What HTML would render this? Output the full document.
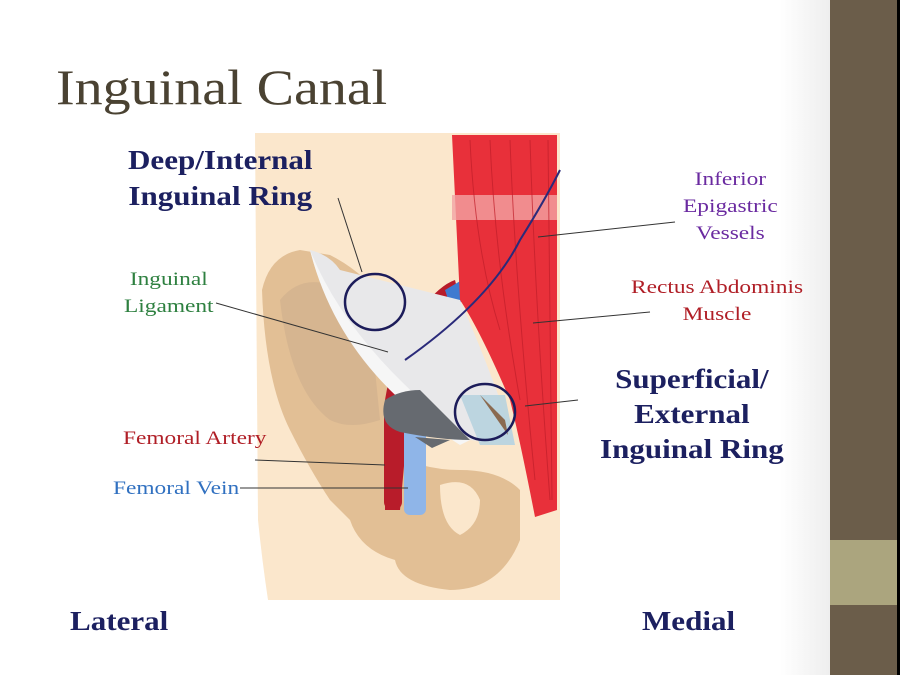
<!DOCTYPE html>
<html><head><style>
body{margin:0;width:900px;height:675px;overflow:hidden;background:#fff;font-family:"Liberation Serif",serif;}
.t{position:absolute;white-space:nowrap;transform-origin:0 0;}
.b{transform:scaleX(1.15);}
.r{transform:scaleX(1.23);}
</style></head><body>
<div style="position:absolute;left:0;top:0;width:830px;height:675px;background:linear-gradient(90deg,#fff 0,#fff 780px,#eee 830px)"></div>
<div style="position:absolute;left:830px;top:0;width:67px;height:675px;background:#6b5d4a"></div>
<div style="position:absolute;left:830px;top:540px;width:67px;height:65px;background:#aba57e"></div>
<div style="position:absolute;left:897px;top:0;width:3px;height:675px;background:#000"></div>
<svg style="position:absolute;left:0;top:0" width="830" height="675">
<path d="M255,133 L560,133 L560,600 L268,600 Q262,560 258,520 Z" fill="#fbe7cc"/>
<path d="M262,290 Q270,255 300,250 L330,255 Q360,270 385,300 L395,400 Q400,430 385,450 Q420,470 460,470 Q500,470 520,490 L520,540 Q500,590 450,590 Q400,585 395,560 Q360,550 350,520 L330,500 Q310,470 290,430 Q265,380 262,290 Z" fill="#e2bf95"/>
<path d="M280,300 Q300,275 330,285 L370,320 L380,420 Q350,430 330,420 Q290,390 280,300Z" fill="#d6b590"/>
<path d="M440,485 Q470,475 480,500 Q480,525 460,535 Q440,525 440,485Z" fill="#fbe7cc"/>
<path d="M420,310 Q440,285 455,280 L460,300 Q430,320 410,400 L400,510 L385,510 L385,400 Q395,340 420,310Z" fill="#b81c2a"/>
<rect x="384" y="400" width="18" height="110" rx="8" fill="#b81c2a"/>
<rect x="404" y="420" width="22" height="95" rx="6" fill="#8fb5e8"/>
<path d="M445,290 L462,280 L468,300 L450,305Z" fill="#3f7ad0"/>
<path d="M452,135 L557,135 L557,510 L535,517 Q520,440 510,400 Q480,330 460,300 Z" fill="#e8303a"/>
<rect x="452" y="195" width="105" height="25" fill="#f2a4a4" opacity="0.8"/>
<g stroke="#c01e2a" stroke-width="1" fill="none" opacity="0.7">
<path d="M470,140 Q475,250 500,330"/><path d="M490,140 Q495,260 520,400"/><path d="M510,140 Q515,280 535,480"/><path d="M530,140 Q535,300 550,500"/><path d="M548,140 L552,500"/>
</g>
<path d="M310,250 Q330,255 340,270 L460,300 Q495,380 515,445 L470,440 L400,395 Q330,330 310,250Z" fill="#e8e8ea"/>
<path d="M310,250 Q350,350 470,440 L460,445 Q340,370 310,250Z" fill="#f6f6f6"/>
<path d="M460,395 L505,395 L515,445 L480,445Z" fill="#b7d3df" opacity="0.9"/>
<path d="M480,395 L505,420 L508,435 Z" fill="#8a6a50"/>
<path d="M385,400 Q400,390 420,390 L470,440 Q440,440 400,432 Q378,425 385,400Z" fill="#666a70"/>
<path d="M415,437 L450,440 L432,448Z" fill="#666a70"/>
<path d="M405,360 Q490,300 520,240 Q545,200 560,170" stroke="#2a2a7a" stroke-width="2" fill="none"/>
<ellipse cx="375" cy="302" rx="30" ry="28" fill="none" stroke="#1c1c5a" stroke-width="2.5"/>
<ellipse cx="485" cy="412" rx="30" ry="28" fill="none" stroke="#1c1c5a" stroke-width="2.5"/>
<g stroke="#333" stroke-width="1">
<line x1="338" y1="198" x2="362" y2="272"/>
<line x1="216" y1="303" x2="388" y2="352"/>
<line x1="538" y1="237" x2="675" y2="222"/>
<line x1="533" y1="323" x2="650" y2="312"/>
<line x1="525" y1="406" x2="578" y2="400"/>
<line x1="255" y1="460" x2="385" y2="465"/>
<line x1="240" y1="488" x2="408" y2="488"/>
</g>
</svg>
<div class="t" style="left:56px;top:58px;font-size:50px;color:#4a4232;transform:scaleX(1.12)">Inguinal Canal</div>
<div class="t b" style="left:128px;top:142px;font-size:27px;font-weight:bold;color:#1c2060;text-align:center;line-height:36px">Deep/Internal<br>Inguinal Ring</div>
<div class="t r" style="left:124px;top:266px;font-size:19px;color:#2e8040;text-align:center;line-height:27px">Inguinal<br>Ligament</div>
<div class="t r" style="left:683px;top:166px;font-size:19px;color:#6a2aa0;text-align:center;line-height:27px">Inferior<br>Epigastric<br>Vessels</div>
<div class="t r" style="left:631px;top:274px;font-size:19px;color:#b01e26;text-align:center;line-height:27px">Rectus Abdominis<br>Muscle</div>
<div class="t b" style="left:600px;top:362px;font-size:27px;font-weight:bold;color:#1c2060;text-align:center;line-height:35px">Superficial/<br>External<br>Inguinal Ring</div>
<div class="t r" style="left:123px;top:428px;font-size:19px;color:#b01e26">Femoral Artery</div>
<div class="t r" style="left:113px;top:478px;font-size:19px;color:#3070c0">Femoral Vein</div>
<div class="t b" style="left:70px;top:606px;font-size:27px;font-weight:bold;color:#1c2060">Lateral</div>
<div class="t b" style="left:642px;top:606px;font-size:27px;font-weight:bold;color:#1c2060">Medial</div>
</body></html>
